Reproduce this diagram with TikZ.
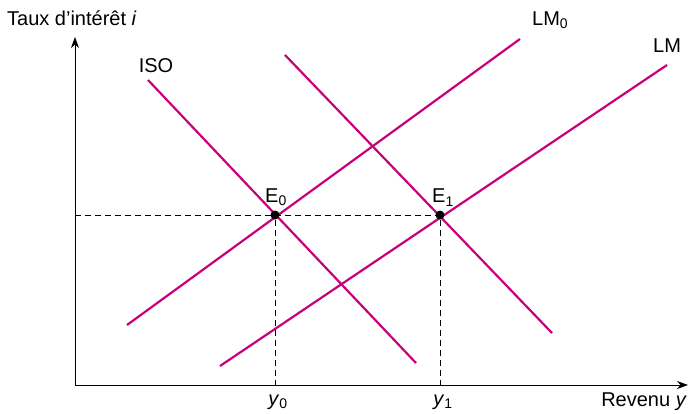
\documentclass[tikz,border=0pt]{standalone}
\usepackage{fontspec}
\setmainfont{Liberation Sans}
\usetikzlibrary{arrows.meta,positioning}
\definecolor{curvepink}{HTML}{C8007C}

\begin{document}
\begin{tikzpicture}[
  x=1pt, y=-1pt,
  every node/.style={font=\fontsize{20}{23}\selectfont, inner sep=1pt},
  axis/.style={-{Stealth[length=11pt, width=8pt]}, draw=black, line width=0.9pt},
  curve/.style={draw=curvepink, line width=2.2pt},
  guide/.style={dash pattern=on 6pt off 4pt, draw=black, line width=0.8pt},
  eqpoint/.style={circle, fill=black, inner sep=0pt, minimum size=9pt}
]
\useasboundingbox (0,0) rectangle (688,413);
% axes
\coordinate (origin) at (75,385);
\coordinate (ytop) at (75,37);
\coordinate (xend) at (688,385);
\draw[axis] (origin) -- (ytop);
\draw[axis] (origin) -- (xend);
\node[anchor=west] (ylabel) at (6,18) {Taux d’intérêt \textit{i}};
\node[anchor=east] (xlabel) at (688,402) {Revenu \textit{y}};
% curves
\coordinate (iso0a) at (148,80);
\coordinate (iso0b) at (416,363);
\coordinate (iso1a) at (285,55);
\coordinate (iso1b) at (552,333);
\coordinate (lm0a) at (127,325);
\coordinate (lm0b) at (520,39);
\coordinate (lm1a) at (220,366);
\coordinate (lm1b) at (667,65);
\foreach \a/\b in {iso0a/iso0b,iso1a/iso1b,lm0a/lm0b,lm1a/lm1b}
  \draw[curve] (\a) -- (\b);
\node (isolabel) at (156,66) {ISO};
\node[anchor=west] (lm0label) at (531,20) {LM\textsubscript{0}};
\node[anchor=west] (lm1label) at (652,46) {LM};
% equilibria
\node[eqpoint] (e0) at (275,215) {};
\node[eqpoint] (e1) at (440,215) {};
\node[above=3pt of e0, xshift=1pt] {E\textsubscript{0}};
\node[above=3pt of e1, xshift=3pt] {E\textsubscript{1}};
\coordinate (yaxis0) at (75,215);
\coordinate (x0) at (275,385);
\coordinate (x1) at (440,385);
\draw[guide] (yaxis0) -- (e1);
\draw[guide] (e0) -- (x0);
\draw[guide] (e1) -- (x1);
\node (y0label) at (278,402) {\textit{y}\textsubscript{0}};
\node (y1label) at (443,402) {\textit{y}\textsubscript{1}};
\end{tikzpicture}
\end{document}
